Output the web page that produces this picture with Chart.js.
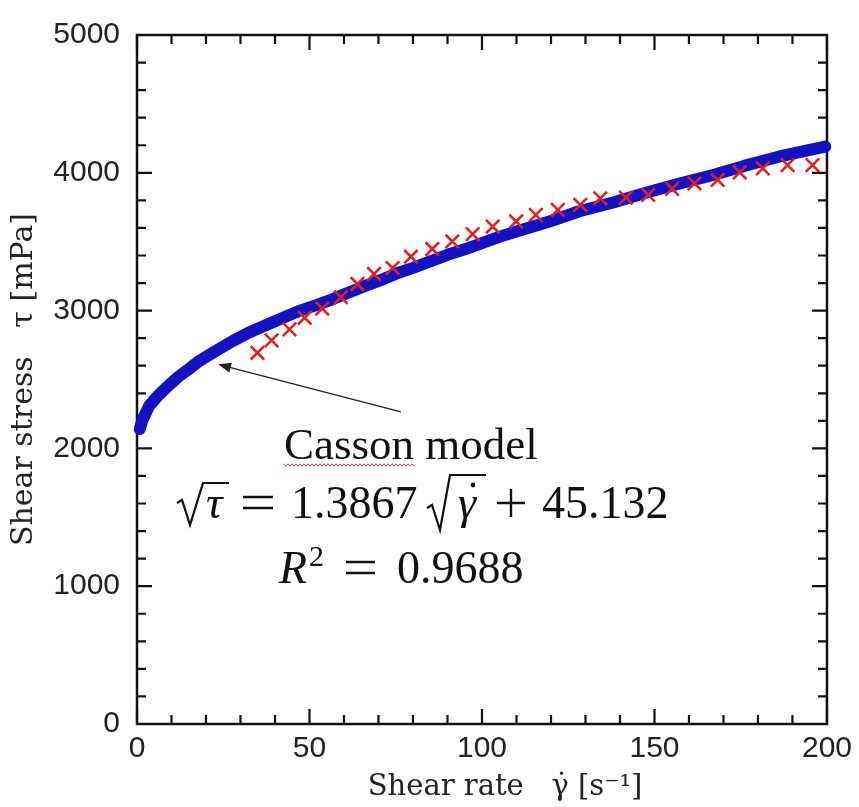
<!DOCTYPE html>
<html lang="en">
<head>
<meta charset="UTF-8" />
<title>Shear stress vs shear rate</title>
<script src="https://cdn.jsdelivr.net/npm/chart.js@4"></script>
<style>
  html, body { margin: 0; padding: 0; background: #fff; }
  #wrap { width: 859px; height: 807px; }
</style>
</head>
<body>
<div id="wrap"><canvas id="myChart" width="859" height="807"></canvas></div>
<script>
const blueRate = [0.8, 1.5, 3.5, 6, 8.5, 12, 15, 18, 22, 27.7, 32, 37.3, 42, 46.8, 52, 56.4, 61, 66, 71, 75.6,
  80, 85, 90, 95, 100, 105, 110, 120, 128, 138, 147, 157, 167, 176, 186, 193, 199.5];
const blueStress = [2140, 2200, 2308, 2380, 2441, 2520, 2575, 2634, 2695, 2779, 2835, 2894, 2945, 2996, 3040, 3080, 3128, 3177, 3225, 3273,
  3310, 3357, 3405, 3445, 3490, 3535, 3574, 3650, 3719, 3785, 3852, 3920, 3984, 4050, 4117, 4155, 4190];

// red crosses
const redRate = [34.9, 39.0, 44.2, 48.6, 53.7, 59.1, 63.9, 68.7, 74.1, 79.4, 85.6, 91.4, 97.3, 103.1, 109.9, 115.6,
  122.0, 128.5, 134.3, 141.7, 148.2, 155.1, 161.6, 168.3, 174.7, 181.4, 188.6, 195.8];
const redStress = [2694, 2784, 2864, 2948, 3015, 3097, 3193, 3266, 3309, 3391, 3447, 3502, 3555, 3610, 3647, 3695,
  3731, 3767, 3815, 3820, 3840, 3883, 3924, 3948, 4003, 4032, 4056, 4056];

const xTicks = [0, 50, 100, 150, 200];
const yTicks = [0, 1000, 2000, 3000, 4000, 5000];
const xMinorStep = 10;
const yMinorStep = 200;

const toPoints = (xs, ys) => xs.map((x, i) => ({ x: x, y: ys[i] }));

// frame + inward ticks on all four sides
const framePlugin = {
  id: 'frame',
  beforeDatasetsDraw(chart) {
    const { ctx, chartArea: a, scales: { x, y } } = chart;
    ctx.save();
    ctx.strokeStyle = '#111';
    ctx.lineWidth = 2.5;
    ctx.strokeRect(a.left, a.top, a.right - a.left, a.bottom - a.top);
    ctx.lineWidth = 2.2;
    ctx.beginPath();
    for (let v = x.min; v <= x.max + 1e-9; v += xMinorStep) {
      const px = x.getPixelForValue(v);
      const len = xTicks.includes(v) ? 15 : 9;
      ctx.moveTo(px, a.bottom); ctx.lineTo(px, a.bottom - len);
      ctx.moveTo(px, a.top); ctx.lineTo(px, a.top + len);
    }
    for (let v = y.min; v <= y.max + 1e-9; v += yMinorStep) {
      const py = y.getPixelForValue(v);
      const len = yTicks.includes(v) ? 15 : 9;
      ctx.moveTo(a.left, py); ctx.lineTo(a.left + len, py);
      ctx.moveTo(a.right, py); ctx.lineTo(a.right - len, py);
    }
    ctx.stroke();
    ctx.restore();
  }
};

// arrow + "Casson model" equation text
const notePlugin = {
  id: 'note',
  afterDraw(chart) {
    const { ctx, scales: { x, y } } = chart;
    ctx.save();
    // arrow pointing at the curve
    const tipX = x.getPixelForValue(23.5), tipY = y.getPixelForValue(2610);
    const tailX = x.getPixelForValue(76.5), tailY = y.getPixelForValue(2265);
    const ang = Math.atan2(tipY - tailY, tipX - tailX);
    ctx.strokeStyle = '#222';
    ctx.fillStyle = '#222';
    ctx.lineWidth = 1.4;
    ctx.beginPath();
    ctx.moveTo(tailX, tailY);
    ctx.lineTo(tipX - 8 * Math.cos(ang), tipY - 8 * Math.sin(ang));
    ctx.stroke();
    ctx.beginPath();
    ctx.moveTo(tipX, tipY);
    ctx.lineTo(tipX - 13 * Math.cos(ang) + 5 * Math.sin(ang), tipY - 13 * Math.sin(ang) - 5 * Math.cos(ang));
    ctx.lineTo(tipX - 13 * Math.cos(ang) - 5 * Math.sin(ang), tipY - 13 * Math.sin(ang) + 5 * Math.cos(ang));
    ctx.closePath();
    ctx.fill();

    // Casson model label
    ctx.fillStyle = '#111';
    ctx.textBaseline = 'alphabetic';
    ctx.textAlign = 'left';
    ctx.font = '45px "Liberation Serif"';
    ctx.fillText('Casson model', 284, 459);
    // spell-check squiggle under "Casson"
    const wEnd = 284 + ctx.measureText('Casson').width;
    ctx.strokeStyle = '#d04040';
    ctx.lineWidth = 1;
    ctx.beginPath();
    for (let px = 284, k = 0; px <= wEnd; px += 2, k++) {
      const py = 465 + (k % 2 ? 1.2 : -1.2);
      if (k === 0) ctx.moveTo(px, py); else ctx.lineTo(px, py);
    }
    ctx.stroke();

    // sqrt(tau) = 1.3867 sqrt(gammadot) + 45.132
    const base = 518;
    const reg = '46px "Liberation Serif"';
    const ita = 'italic 46px "Liberation Serif"';
    ctx.strokeStyle = '#111';
    const radical = (x0, xv, yv, xt, yt, x1) => {
      ctx.lineWidth = 2.2;
      ctx.beginPath();
      ctx.moveTo(x0, yv - 22);
      ctx.lineTo(x0 + 5, yv - 25);
      ctx.lineTo(xv, yv);
      ctx.lineTo(xt, yt);
      ctx.lineTo(x1, yt);
      ctx.stroke();
    };
    const equals = (x0, x1, b) => {
      ctx.lineWidth = 2.6;
      ctx.beginPath();
      ctx.moveTo(x0, b - 21); ctx.lineTo(x1, b - 21);
      ctx.moveTo(x0, b - 10); ctx.lineTo(x1, b - 10);
      ctx.stroke();
    };
    radical(177, 190, 525, 203, 483, 229);
    ctx.font = ita;
    ctx.fillText('τ', 206, base);
    equals(243, 273, base);
    ctx.font = reg;
    ctx.fillText('1.3867', 291, base);
    radical(427, 440, 530, 450, 475, 486);
    ctx.font = ita;
    ctx.fillText('γ', 458, base);
    ctx.beginPath();
    ctx.arc(473, 485, 2.4, 0, Math.PI * 2);
    ctx.fill();
    // plus sign
    ctx.lineWidth = 2.4;
    ctx.beginPath();
    ctx.moveTo(497, 503); ctx.lineTo(525, 503);
    ctx.moveTo(511, 489); ctx.lineTo(511, 517);
    ctx.stroke();
    ctx.font = reg;
    ctx.fillText('45.132', 542, base);

    // R^2 = 0.9688
    const b2 = 583;
    ctx.font = ita;
    ctx.fillText('R', 279, b2);
    ctx.font = '30px "Liberation Serif"';
    ctx.fillText('2', 309, b2 - 17);
    equals(346, 375, b2);
    ctx.font = reg;
    ctx.fillText('0.9688', 397, b2);
    ctx.restore();
  }
};

const ctx = document.getElementById('myChart').getContext('2d');
const myChart = new Chart(ctx, {
  type: 'scatter',
  data: {
    datasets: [
      {
        label: 'red',
        data: toPoints(redRate, redStress),
        pointStyle: 'crossRot',
        pointRadius: 9.5,
        borderWidth: 2.6,
        borderColor: '#e02020',
        backgroundColor: '#e02020',
        order: 0
      },
      {
        label: 'blue',
        data: toPoints(blueRate, blueStress),
        showLine: true,
        borderWidth: 12,
        borderColor: '#1212c4',
        backgroundColor: '#1212c4',
        pointRadius: 0,
        borderCapStyle: 'round',
        borderJoinStyle: 'round',
        clip: 10,
        order: 1
      }
    ]
  },
  options: {
    responsive: false,
    animation: false,
    layout: { padding: { left: 0, right: 28, top: 33, bottom: 0 } },
    plugins: {
      legend: { display: false },
      tooltip: { enabled: false }
    },
    scales: {
      x: {
        type: 'linear',
        min: 0,
        max: 200,
        afterBuildTicks(s) { s.ticks = xTicks.map(v => ({ value: v })); },
        afterFit(s) { s.height = 83; },
        ticks: {
          font: { family: 'Liberation Sans', size: 30 },
          color: '#222',
          padding: 7,
          maxRotation: 0,
          callback: v => String(v)
        },
        grid: { display: false, drawTicks: false },
        border: { display: false },
        title: {
          display: true,
          text: '     Shear rate   γ̇ [s⁻¹]',
          font: { family: 'DejaVu Serif', size: 29 },
          color: '#222',
          padding: { top: 0, bottom: 2 }
        }
      },
      y: {
        type: 'linear',
        min: 0,
        max: 5000,
        afterBuildTicks(s) { s.ticks = yTicks.map(v => ({ value: v })); },
        afterFit(s) { s.width = 137; },
        ticks: {
          font: { family: 'Liberation Sans', size: 30 },
          color: '#222',
          padding: 17,
          callback: v => String(v)
        },
        grid: { display: false, drawTicks: false },
        border: { display: false },
        title: {
          display: true,
          text: 'Shear stress   τ [mPa]',
          font: { family: 'DejaVu Serif', size: 30 },
          color: '#222',
          padding: { top: 6, bottom: 0 }
        }
      }
    }
  },
  plugins: [framePlugin, notePlugin]
});
</script>
</body>
</html>
